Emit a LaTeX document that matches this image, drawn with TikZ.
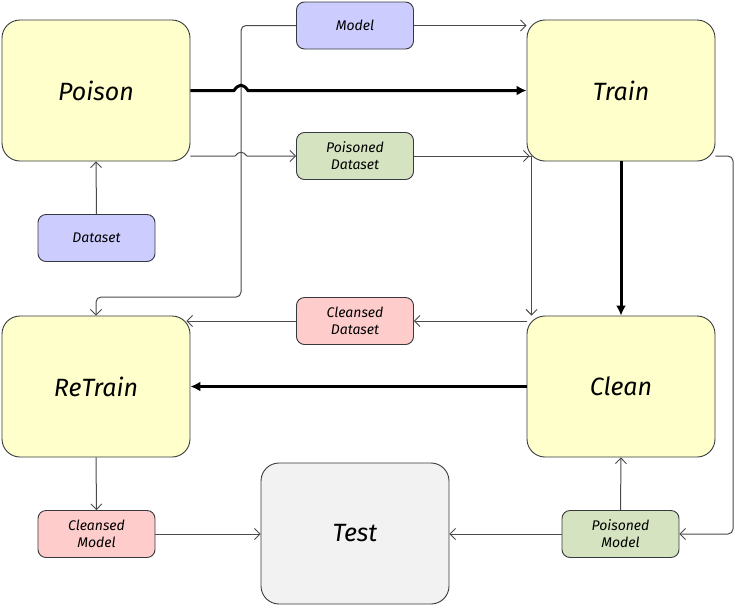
\documentclass[tikz,border=0pt]{standalone}
\usepackage{fontspec}
\setmainfont{Fira Sans}
\usetikzlibrary{arrows.meta}
\definecolor{yel}{HTML}{FFFFCC}
\definecolor{blu}{HTML}{CCCCFF}
\definecolor{grn}{HTML}{D5E3C0}
\definecolor{red}{HTML}{FFCCCC}
\definecolor{gry}{HTML}{F2F2F2}
\definecolor{edge}{HTML}{36393D}
\definecolor{ln}{HTML}{4A4A4A}
\tikzset{
  bigbox/.style={draw=edge, line width=0.9pt, rounded corners=18pt, minimum width=188pt, minimum height=141pt, inner sep=0pt, font=\itshape\fontsize{25}{28}\selectfont},
  smallbox/.style={draw=edge, line width=0.9pt, rounded corners=8pt, minimum width=117pt, minimum height=47pt, inner sep=0pt, align=center, font=\itshape\fontsize{14}{17}\selectfont},
  arr/.style={draw=ln, line width=1pt, -{Straight Barb[length=5.5pt,width=11pt,line width=0.9pt]}},
  thk/.style={draw=black, line width=3pt, -{Latex[length=10pt,width=10pt]}},
}
\begin{document}
\begin{tikzpicture}[x=1pt,y=-1pt]
\useasboundingbox (0,0) rectangle (734,606);
\node[bigbox, fill=yel] (Poison) at (96,90.5) {Poison};
\node[bigbox, fill=yel] (Train) at (621,90.5) {Train};
\node[bigbox, fill=yel] (ReTrain) at (96,386.5) {ReTrain};
\node[bigbox, fill=yel] (Clean) at (621,386.5) {Clean};
\node[bigbox, fill=gry] (Test) at (355,533.5) {Test};
\node[smallbox, fill=blu] (Model) at (355,25.5) {Model};
\node[smallbox, fill=grn] (PD) at (355,156) {Poisoned\\Dataset};
\node[smallbox, fill=blu] (DS) at (96.5,238) {Dataset};
\node[smallbox, fill=red] (CD) at (355,321) {Cleansed\\Dataset};
\node[smallbox, fill=red] (CM) at (96.5,534) {Cleansed\\Model};
\node[smallbox, fill=grn] (PM) at (620.5,534) {Poisoned\\Model};
\coordinate (mv) at (241,0);
\coordinate (rv) at (733,0);
% thin connectors
\draw[arr, rounded corners=5pt] (Model.west) -- (mv |- Model.west) -- (mv |- CD.north) -- (ReTrain.north |- CD.north) -- (ReTrain.north);
\draw[arr] (Model.east) -- (Train.west |- Model.east);
\draw[arr] (Poison.east |- PD.west) -- ([xshift=-6pt]mv |- PD.west) .. controls ([xshift=-2pt,yshift=5pt]mv |- PD.west) and ([xshift=2pt,yshift=5pt]mv |- PD.west) .. ([xshift=6pt]mv |- PD.west) -- (PD.west);
\draw[arr] (PD.east) -- ([xshift=3pt]Train.west |- PD.east);
\draw[arr] (PD.east) -| ([xshift=5pt]Clean.north west);
\draw[arr, rounded corners=5pt] (Train.east |- PD.east) -- (rv |- PD.east) -- (rv |- PM.east) -- (PM.east);
\draw[arr] (Clean.west |- CD.east) -- (CD.east);
\draw[arr] (CD.west) -- ([xshift=-4pt]ReTrain.east |- CD.west);
\draw[arr] (DS.north) -- (Poison.south);
\draw[arr] (ReTrain.south) -- (CM.north);
\draw[arr] (CM.east) -- (Test.west |- CM.east);
\draw[arr] (PM.west) -- (Test.east |- PM.west);
\draw[arr] (PM.north) -- (Clean.south);
% thick connectors
\draw[thk] (Poison.east) -- ([xshift=-7pt]mv |- Poison.east) .. controls ([xshift=-2pt,yshift=7pt]mv |- Poison.east) and ([xshift=2pt,yshift=7pt]mv |- Poison.east) .. ([xshift=7pt]mv |- Poison.east) -- (Train.west);
\draw[thk] (Train.south) -- (Clean.north);
\draw[thk] (Clean.west) -- (ReTrain.east);
\end{tikzpicture}
\end{document}
